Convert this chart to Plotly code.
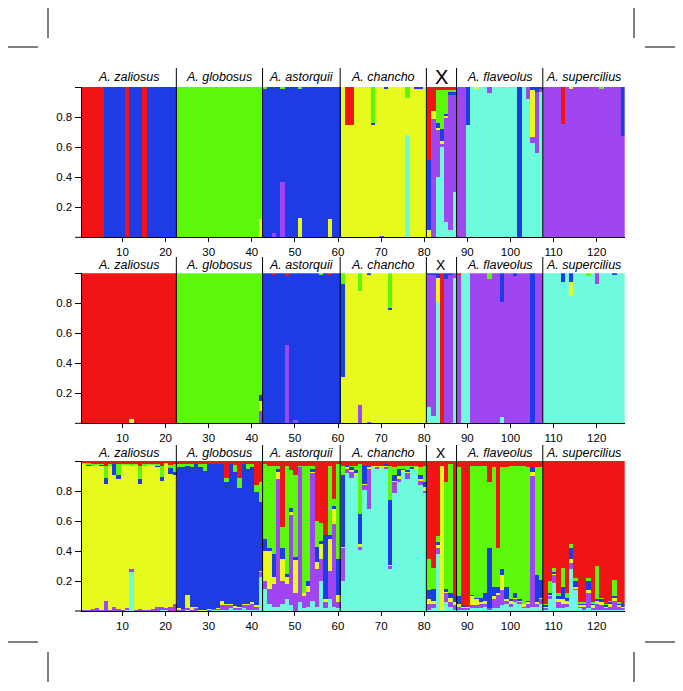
import plotly.graph_objects as go

# ---------------- data ----------------
individuals = list(range(1, 127))
group_names = ["A. zaliosus", "A. globosus", "A. astorquii", "A. chancho", "X", "A. flaveolus", "A. supercilius"]
group_sizes = [22, 20, 18, 20, 7, 20, 19]
x_tickvals = [10, 20, 30, 40, 50, 60, 70, 80, 90, 100, 110, 120]
y_tickvals = [0.2, 0.4, 0.6, 0.8, 1.0]
y_ticktext = ["0.2", "0.4", "0.6", "0.8", ""]

# cluster order (bottom -> top): cyan, purple, yellow, blue, green, red
cluster_keys = ["C", "P", "Y", "B", "G", "R"]
cluster_colors = ["#6EFADC", "#A046F0", "#E6FA1E", "#1E3CE6", "#5CF80A", "#F01414"]

# ---- panel 1: dominant cluster per individual + mixed individuals (C,P,Y,B,G,R)
panel1_base = ("RRRRRBBBBBRBBBRBBBBBBB" + "G" * 20 + "B" * 18 + "Y" * 20 +
               "PPPPPPP" + "C" * 20 + "P" * 19)
panel1_mix = {
    42: (0, 0, .12, 0, .88, 0), 43: (0, 0, 0, .99, .01, 0), 45: (0, .03, 0, .97, 0, 0),
    47: (0, .37, 0, .62, .01, 0), 51: (0, 0, .13, .86, .01, 0), 58: (0, 0, .12, .88, 0, 0),
    62: (0, 0, .75, 0, 0, .25), 63: (0, 0, .75, 0, 0, .25), 68: (0, 0, .75, .01, .24, 0),
    70: (0, .01, .99, 0, 0, 0), 71: (0, 0, .99, .01, 0, 0), 76: (.68, 0, .25, 0, .07, 0),
    78: (0, 0, .99, .01, 0, 0), 79: (0, 0, .99, .01, 0, 0),
    81: (0, 0, .05, .465, 0, .485), 82: (0, .79, .05, 0, 0, .16), 83: (.40, .32, .01, .03, .22, .02),
    84: (.60, .02, .02, .08, .26, .02), 85: (.10, .70, .01, .01, .16, .02), 86: (.05, .90, 0, .02, .01, .02),
    87: (.30, .65, 0, .02, .01, .02),
    88: (0, 1, 0, 0, 0, 0), 89: (0, 1, 0, 0, 0, 0), 90: (.75, 0, 0, .25, 0, 0),
    92: (.99, 0, .01, 0, 0, 0), 95: (.96, .04, 0, 0, 0, 0), 102: (0, 0, 0, 1, 0, 0),
    104: (.92, .08, 0, 0, 0, 0), 105: (.63, .04, .31, .02, 0, 0), 106: (.56, .41, 0, .03, 0, 0),
    107: (.97, .02, 0, .01, 0, 0),
    112: (0, .755, 0, 0, 0, .245), 114: (0, .99, .01, 0, 0, 0), 121: (0, .99, 0, 0, .01, 0),
    126: (0, .675, 0, .325, 0, 0),
}

# ---- panel 2
panel2_base = ("R" * 22 + "G" * 20 + "B" * 18 + "Y" * 20 + "PPPPPPP" + "P" * 20 + "C" * 19)
panel2_mix = {
    12: (0, 0, .03, 0, 0, .97), 42: (0, .08, .07, .04, .81, 0), 45: (0, 0, 0, .99, 0, .01),
    48: (0, .52, 0, .46, 0, .02), 50: (0, .02, 0, .98, 0, 0), 56: (0, 0, 0, .99, .01, 0),
    58: (0, 0, 0, .99, 0, .01), 61: (0, 0, .31, .62, .07, 0), 65: (0, .12, .76, 0, .12, 0),
    67: (0, .01, .98, .01, 0, 0), 72: (0, 0, .755, .01, .235, 0),
    81: (.11, .88, 0, .01, 0, 0), 82: (.05, .94, 0, .01, 0, 0), 83: (.81, 0, .16, .03, 0, 0),
    84: (0, 0, 0, 0, 0, 1), 85: (0, .96, 0, .04, 0, 0), 86: (0, .99, 0, .01, 0, 0),
    87: (.97, .03, 0, 0, 0, 0), 88: (0, .99, 0, 0, 0, .01), 89: (1, 0, 0, 0, 0, 0),
    90: (1, 0, 0, 0, 0, 0), 95: (0, .96, 0, 0, .04, 0), 98: (.04, .77, 0, .19, 0, 0),
    101: (0, .98, 0, .02, 0, 0), 105: (0, 0, 0, 1, 0, 0),
    112: (.94, 0, 0, .06, 0, 0), 114: (.85, 0, .09, .06, 0, 0), 118: (.98, 0, 0, 0, .02, 0),
    120: (.93, .07, 0, 0, 0, 0), 124: (.99, 0, 0, .01, 0, 0),
}

# ---- panel 3: every individual (C,P,Y,B,G,R)
panel3_rows = [
    # A. zaliosus 1-22
    (0, .005, .975, 0, .01, .01), (0, .01, .96, .005, .01, .015), (0, .015, .955, 0, .01, .02),
    (0, .02, .955, 0, .005, .02), (0, .01, .96, .005, .005, .02), (0, .07, .775, .04, .085, .03),
    (0, .01, .96, 0, .01, .02), (0, .025, .885, .07, 0, .02), (0, .015, .865, .03, .07, .02),
    (0, .01, .965, 0, .005, .02), (.01, .01, .955, 0, .005, .02), (.26, .02, .69, 0, .01, .02),
    (0, .01, .965, 0, .005, .02), (0, .015, .835, .03, .09, .03), (0, .01, .96, 0, .01, .02),
    (0, .01, .965, 0, .005, .02), (0, .015, .96, 0, .005, .02), (0, .03, .93, .01, .01, .02),
    (.01, .02, .835, .03, .075, .03), (.01, .01, .96, 0, .01, .01), (0, .03, .885, .04, .02, .025),
    (0, .05, .86, .02, .05, .02),
    # A. globosus 23-42
    (0, .01, .01, .94, .02, .02), (0, .015, 0, .945, .02, .02), (.01, .01, .09, .86, .01, .02),
    (0, .01, .02, .93, .02, .02), (0, .02, .01, .95, 0, .02), (0, .005, .005, .95, .02, .02),
    (0, .005, .005, .925, .045, .02), (.005, .005, .005, .965, 0, .02), (.01, .005, 0, .965, 0, .02),
    (.01, .005, .005, .96, 0, .02), (.01, .03, .03, .91, 0, .02), (.01, .03, .01, .81, .03, .11),
    (.02, .02, .01, .93, 0, .02), (.01, .015, .01, .89, .05, .025), (.01, .01, .005, .795, .07, .11),
    (.02, .02, .01, .93, 0, .02), (.01, .03, .01, .90, .03, .02), (.01, .04, .01, .90, .02, .02),
    (.01, .02, .01, .76, .05, .16), (.23, .03, .01, .46, .13, .14),
    # A. astorquii 43-60
    (.15, .05, .20, .08, .50, .02), (.05, .10, .25, .02, .55, .03), (.03, .15, .05, .15, .59, .03),
    (.03, .85, .05, .02, .02, .03), (.05, .15, .15, .07, .14, .44), (.08, .10, .05, .02, .72, .03),
    (.04, .60, .02, .03, .25, .06), (0, .12, .22, .02, .55, .09), (.06, .90, 0, 0, .01, .03),
    (.02, .08, .02, 0, .85, .03), (.03, .10, .04, .03, .77, .03), (.07, .85, .01, .02, .02, .03),
    (.03, .25, .05, .10, .17, .40), (.20, .15, .10, .02, .12, .41), (.02, .04, .02, .43, 0, .49),
    (.08, .19, .21, .03, .46, .03), (.03, .55, .10, .02, .05, .25), (.02, .04, .05, .24, .63, .02),
    # A. chancho 61-80
    (.20, .22, .01, .48, .06, .03), (.92, .03, .01, .01, 0, .03), (.89, .04, .01, .02, .01, .03),
    (.91, 0, .01, .02, .03, .03), (.41, .02, .02, .20, .33, .02), (.81, .03, .01, .12, 0, .03),
    (.68, .27, .01, .01, 0, .03), (.96, 0, .01, 0, 0, .03), (.95, .01, .01, 0, 0, .03),
    (.96, 0, .01, 0, 0, .03), (.95, .01, .01, .01, 0, .02), (.28, .02, .01, .43, .23, .03),
    (.79, .07, .01, .04, .05, .04), (.86, .02, .02, .05, .02, .03), (.93, 0, .01, .01, .02, .03),
    (.88, .04, .01, .01, .03, .03), (.95, 0, 0, .01, .01, .03), (.95, 0, .01, 0, .01, .03),
    (.84, .03, .01, .03, .05, .04), (.79, .01, .03, .03, .11, .03),
    # X 81-87
    (.01, .04, .03, .06, .21, .65), (.02, .03, .02, .08, .14, .71), (.38, .04, .02, .02, .04, .50),
    (.01, 0, .96, 0, 0, .03), (.06, .06, .01, .02, .71, .14), (.03, .03, .03, .03, .86, .02),
    (.01, .03, .02, .04, 0, .90),
    # A. flaveolus 88-107
    (.01, .02, .02, .05, .86, .04), (.01, .01, .01, .01, 0, .96), (.01, .01, .01, 0, 0, .97),
    (.02, .02, .06, .01, .86, .03), (.02, .02, .04, .01, .88, .03), (.02, .03, .01, .03, .88, .03),
    (.03, .02, .02, .05, .85, .03), (.01, .01, 0, .40, .44, .14), (.02, .06, .02, .06, .80, .04),
    (.02, .09, .01, .04, .26, .58), (.04, .10, .10, .04, .68, .04), (.05, .02, .01, .08, .80, .04),
    (.03, .02, .02, .01, .89, .03), (.06, .02, .01, .03, .85, .03), (.05, .01, .01, .01, .89, .03),
    (.02, .01, .02, 0, .92, .03), (.02, .03, .01, .01, .89, .04), (.03, .87, .03, .03, 0, .04),
    (.03, .02, .01, .18, .72, .04), (.05, .03, .01, .12, .75, .04),
    # A. supercilius 108-126
    (.01, .01, .01, .01, .01, .95), (.08, .02, .01, .01, .08, .80), (.19, .05, .01, .01, .03, .71),
    (.02, .04, .02, .02, .02, .88), (.02, .03, .03, .08, .13, .71), (.03, .02, .02, .02, .03, .88),
    (.28, .04, .03, .07, .03, .55), (.14, .01, .01, .04, .02, .78), (.02, .01, .01, .01, .01, .94),
    (.01, .02, .01, .01, .01, .94), (.02, .10, .02, .06, .02, .78), (.01, .01, .02, .01, .01, .94),
    (.01, .04, .02, .01, .22, .70), (.01, .03, .02, .02, .01, .91), (.01, .01, .01, .01, .01, .95),
    (.01, .02, .02, .01, .01, .93), (.01, .06, .02, .01, .11, .79), (.01, .02, .01, .01, .01, .94),
    (.01, .01, .01, .02, 0, .95),
]


# ---------------- build ----------------
def build_rows(base, mix):
    rows = []
    for i in individuals:
        if i in mix:
            r = list(mix[i])
        else:
            r = [1.0 if k == base[i - 1] else 0.0 for k in cluster_keys]
        s = sum(r)
        rows.append([v / s for v in r])
    return rows


def norm(rows):
    return [[v / sum(r) for v in r] for r in rows]


panels = [build_rows(panel1_base, panel1_mix), build_rows(panel2_base, panel2_mix), norm(panel3_rows)]

# the page body adds an 8px offset; the figure is drawn in page pixels minus that offset
OFF = 8
W, H = 683 - OFF, 691 - OFF


def px(v):
    return (v - OFF) / W


def py(v):
    return 1 - (v - OFF) / H


x_left_px, x_right_px = 81.5, 624.7
panel_px = [(87.0, 237.3), (273.3, 423.3), (461.0, 611.0)]   # (top, bottom) in page pixels
label_y_px = [77.0, 265.0, 453.0]
sep_top_px = [68.0, 257.0, 445.0]

fig = go.Figure()
for p, rows in enumerate(panels):
    suffix = "" if p == 0 else str(p + 1)
    for k in range(6):
        fig.add_trace(go.Bar(
            x=individuals, y=[r[k] for r in rows], width=1,
            marker=dict(color=cluster_colors[k], line=dict(width=0)),
            xaxis="x" + suffix, yaxis="y" + suffix, showlegend=False, hoverinfo="skip"))

font_family = "Liberation Sans, Arial, sans-serif"
layout = dict(width=W, height=H, margin=dict(l=0, r=0, t=0, b=0),
              paper_bgcolor="white", plot_bgcolor="white", barmode="stack", bargap=0,
              font=dict(family=font_family, color="black", size=12))

shapes = []
annotations = []
bounds = [0.5]
for s in group_sizes:
    bounds.append(bounds[-1] + s)
centers = [(bounds[i] + bounds[i + 1]) / 2 for i in range(len(group_sizes))]

for p in range(3):
    suffix = "" if p == 0 else str(p + 1)
    top, bot = panel_px[p]
    layout["xaxis" + suffix] = dict(domain=[px(x_left_px), px(x_right_px)], range=[0.5, 126.5],
                                    anchor="y" + suffix, tickvals=x_tickvals, ticks="outside",
                                    ticklen=4, tickcolor="black", showline=True, linecolor="black",
                                    linewidth=1, showgrid=False, zeroline=False,
                                    tickfont=dict(size=11.5))
    layout["yaxis" + suffix] = dict(domain=[py(bot), py(top)], range=[0, 1], anchor="x" + suffix,
                                    tickvals=y_tickvals, ticktext=y_ticktext, ticks="outside",
                                    ticklen=6, tickcolor="black", showline=True, linecolor="black",
                                    linewidth=1, showgrid=False, zeroline=False,
                                    tickfont=dict(size=11.5))
    shapes.append(dict(type="line", xref="paper", yref="paper", x0=px(75), x1=px(x_left_px),
                       y0=py(bot), y1=py(bot), line=dict(color="black", width=1)))
    for b in bounds[1:-1]:
        shapes.append(dict(type="line", xref="x" + suffix, yref="paper", x0=b, x1=b,
                           y0=py(bot), y1=py(sep_top_px[p]),
                           line=dict(color="black", width=1)))
    for g, c in zip(group_names, centers):
        if g == "X":
            txt, size = "X", (20 if p == 0 else 14)
        else:
            txt, size = "<i>" + g + "</i>", 12.5
        annotations.append(dict(text=txt, x=c, xref="x" + suffix, y=py(label_y_px[p]),
                                yref="paper", showarrow=False, xanchor="center", yanchor="middle",
                                font=dict(size=size, color="black", family=font_family)))

# crop marks at the page corners (page pixels)
crop = [(8, 47, 38, 47), (48, 8, 48, 38), (645, 47, 675, 47), (634, 8, 634, 38),
        (8, 642, 38, 642), (48, 652, 48, 682), (645, 642, 675, 642), (634, 652, 634, 682)]
for x0, y0, x1, y1 in crop:
    shapes.append(dict(type="line", xref="paper", yref="paper", x0=px(x0), x1=px(x1),
                       y0=py(y0), y1=py(y1), line=dict(color="black", width=1)))

layout["shapes"] = shapes
layout["annotations"] = annotations
fig.update_layout(**layout)
fig.write_html("out.html")
